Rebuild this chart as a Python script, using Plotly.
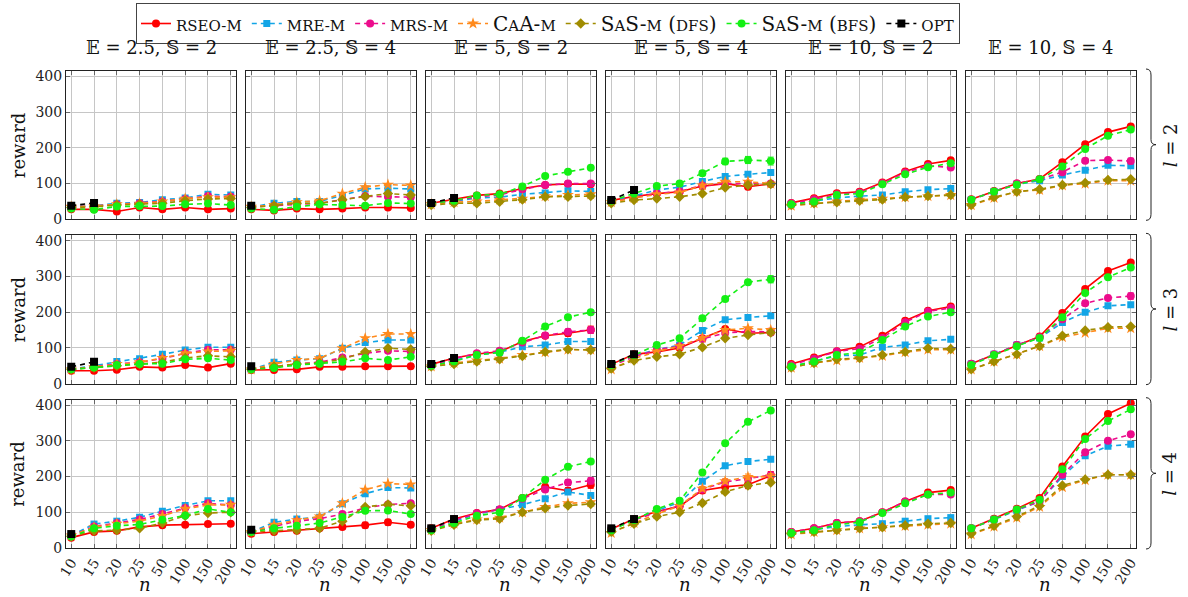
import plotly.graph_objects as go
from plotly.subplots import make_subplots

# ---------------- data ----------------
n_labels = ["10", "15", "20", "25", "50", "100", "150", "200"]
col_titles = ["𝔼 = 2.5, 𝕊 = 2", "𝔼 = 2.5, 𝕊 = 4", "𝔼 = 5, 𝕊 = 2",
              "𝔼 = 5, 𝕊 = 4", "𝔼 = 10, 𝕊 = 2", "𝔼 = 10, 𝕊 = 4"]
row_labels = ["<i>l</i> = 2", "<i>l</i> = 3", "<i>l</i> = 4"]
y_ticks = [0, 100, 200, 300, 400]

# l = 2
rseo_l2 = [[28, 28, 22, 33, 28, 33, 28, 30], [28, 25, 30, 28, 30, 33, 33, 32],
           [45, 55, 67, 72, 86, 96, 99, 98], [53, 64, 72, 77, 93, 100, 91, 99],
           [46, 59, 73, 77, 103, 134, 155, 165], [56, 79, 100, 113, 160, 210, 244, 260]]
mre_l2 = [[35, 38, 45, 47, 55, 60, 70, 68], [35, 45, 50, 50, 67, 85, 87, 85],
          [45, 50, 60, 62, 70, 74, 80, 78], [52, 65, 82, 90, 106, 120, 126, 131],
          [42, 50, 60, 65, 68, 77, 83, 86], [55, 78, 98, 108, 124, 137, 151, 150]]
mrs_l2 = [[35, 37, 42, 45, 50, 57, 65, 63], [35, 38, 42, 45, 55, 65, 63, 62],
          [45, 52, 63, 68, 84, 96, 100, 100], [50, 62, 72, 78, 95, 100, 100, 100],
          [45, 56, 70, 75, 101, 131, 150, 145], [55, 78, 100, 112, 132, 164, 166, 163]]
caa_l2 = [[35, 37, 42, 44, 50, 58, 62, 62], [35, 40, 48, 52, 72, 90, 97, 95],
          [42, 48, 50, 55, 58, 65, 68, 70], [48, 60, 70, 75, 95, 105, 105, 100],
          [38, 45, 50, 55, 58, 62, 65, 68], [40, 60, 78, 82, 95, 100, 108, 108]]
dfs_l2 = [[33, 35, 40, 42, 45, 52, 57, 58], [33, 38, 45, 45, 55, 64, 72, 68],
          [40, 45, 45, 49, 55, 63, 63, 65], [45, 54, 58, 63, 72, 89, 96, 99],
          [40, 45, 48, 52, 55, 62, 65, 68], [40, 62, 77, 84, 96, 102, 110, 112]]
bfs_l2 = [[30, 27, 36, 37, 37, 42, 44, 40], [30, 27, 35, 42, 40, 38, 46, 44],
          [45, 52, 67, 70, 92, 121, 133, 144], [52, 72, 93, 100, 129, 162, 166, 163],
          [42, 50, 68, 72, 98, 126, 146, 157], [55, 78, 97, 112, 148, 197, 234, 251]]
opt_l2 = [[38, 46], [38, None], [46, 60], [54, 82], [None, None], [None, None]]

# l = 3
rseo_l3 = [[36, 36, 39, 47, 45, 52, 45, 56], [38, 38, 40, 47, 47, 49, 49, 49],
           [54, 72, 83, 89, 118, 134, 141, 151], [54, 82, 89, 100, 127, 153, 141, 143],
           [55, 73, 91, 103, 134, 176, 204, 216], [56, 81, 108, 132, 198, 265, 315, 339]]
mre_l3 = [[40, 50, 62, 70, 82, 94, 102, 102], [40, 60, 66, 70, 99, 115, 122, 122],
          [50, 65, 80, 88, 103, 108, 118, 118], [52, 78, 95, 108, 149, 179, 185, 190],
          [48, 62, 78, 80, 102, 108, 120, 124], [55, 82, 108, 128, 171, 200, 218, 221]]
mrs_l3 = [[40, 48, 55, 60, 70, 85, 95, 95], [40, 48, 55, 60, 73, 85, 92, 90],
          [52, 70, 85, 92, 115, 135, 145, 150], [50, 75, 95, 105, 125, 142, 146, 145],
          [52, 70, 90, 98, 128, 172, 202, 212], [55, 82, 108, 130, 180, 225, 240, 245]]
caa_l3 = [[40, 47, 55, 60, 72, 85, 90, 92], [40, 55, 66, 71, 99, 127, 139, 139],
          [48, 58, 65, 70, 80, 88, 95, 95], [40, 70, 90, 105, 128, 150, 155, 150],
          [45, 58, 65, 72, 78, 88, 95, 95], [40, 62, 82, 105, 130, 142, 155, 155]]
dfs_l3 = [[40, 45, 50, 55, 60, 72, 78, 75], [40, 48, 55, 58, 68, 89, 99, 96],
          [48, 55, 62, 68, 77, 89, 96, 94], [42, 65, 75, 82, 102, 127, 136, 143],
          [45, 58, 68, 72, 80, 89, 99, 97], [40, 62, 82, 105, 134, 149, 158, 160]]
bfs_l3 = [[40, 45, 52, 55, 56, 68, 71, 66], [40, 44, 52, 56, 61, 71, 66, 75],
          [50, 63, 80, 87, 120, 160, 186, 200], [52, 80, 108, 127, 183, 237, 284, 292],
          [48, 62, 80, 87, 122, 160, 188, 200], [52, 80, 105, 128, 186, 254, 298, 325]]
opt_l3 = [[47, 61], [49, None], [55, 72], [55, 82], [None, None], [None, None]]

# l = 4
rseo_l4 = [[29, 45, 48, 59, 64, 65, 67, 68], [40, 45, 48, 55, 59, 64, 72, 65],
           [55, 81, 98, 108, 140, 171, 160, 177], [53, 81, 102, 117, 161, 171, 177, 202],
           [45, 55, 70, 75, 100, 130, 155, 162], [55, 82, 110, 140, 228, 312, 375, 405]]
mre_l4 = [[35, 67, 75, 86, 103, 119, 132, 132], [45, 72, 81, 86, 124, 152, 169, 168],
          [52, 75, 95, 108, 121, 138, 157, 147], [52, 78, 105, 128, 187, 230, 242, 248],
          [42, 50, 60, 65, 68, 75, 82, 85], [55, 80, 105, 130, 200, 258, 285, 290]]
mrs_l4 = [[35, 60, 70, 80, 95, 112, 125, 120], [45, 60, 75, 82, 95, 112, 122, 125],
          [52, 78, 97, 108, 138, 164, 183, 188], [52, 78, 100, 118, 164, 185, 194, 204],
          [45, 55, 70, 75, 100, 130, 150, 150], [55, 80, 108, 130, 205, 268, 300, 318]]
caa_l4 = [[35, 58, 68, 75, 90, 110, 120, 121], [45, 65, 78, 88, 125, 163, 180, 178],
          [50, 68, 80, 85, 100, 115, 125, 128], [42, 70, 95, 118, 166, 187, 199, 200],
          [38, 45, 50, 55, 58, 62, 65, 68], [38, 60, 85, 115, 170, 190, 205, 205]]
dfs_l4 = [[33, 48, 50, 55, 70, 90, 98, 100], [45, 48, 50, 55, 75, 115, 122, 118],
          [48, 65, 78, 82, 100, 111, 119, 123], [45, 68, 88, 100, 126, 157, 175, 183],
          [40, 45, 50, 55, 58, 63, 68, 70], [40, 62, 88, 118, 175, 192, 205, 205]]
bfs_l4 = [[32, 55, 62, 66, 79, 91, 109, 100], [45, 55, 62, 70, 87, 104, 105, 95],
          [50, 70, 90, 100, 140, 191, 227, 242], [50, 78, 109, 132, 211, 293, 353, 385],
          [42, 50, 65, 72, 98, 125, 150, 155], [55, 80, 108, 135, 220, 305, 355, 388]]
opt_l4 = [[39, None], [51, None], [55, 81], [55, 81], [None, None], [None, None]]

# error bars (row, col, series) -> half-widths
errors = {
    (0, 3, "bfs"): [2, 3, 4, 5, 7, 9, 10, 11],
    (0, 3, "rseo"): [2, 3, 3, 4, 5, 6, 8, 5],
    (0, 5, "mrs"): [2, 3, 3, 4, 5, 6, 7, 8],
    (1, 2, "rseo"): [2, 3, 3, 4, 5, 7, 8, 10],
    (1, 2, "mrs"): [2, 3, 3, 4, 5, 6, 8, 9],
    (1, 3, "bfs"): [2, 3, 4, 5, 6, 7, 6, 10],
    (1, 3, "mrs"): [2, 3, 4, 4, 6, 8, 9, 10],
    (1, 5, "mrs"): [2, 3, 3, 4, 5, 6, 7, 9],
    (2, 1, "rseo"): [3, 3, 4, 4, 6, 8, 8, 6],
    (2, 2, "rseo"): [2, 3, 4, 4, 6, 8, 9, 10],
    (2, 2, "mrs"): [2, 3, 3, 4, 6, 7, 8, 9],
    (2, 3, "rseo"): [2, 3, 4, 5, 7, 8, 11, 12],
    (2, 3, "caa"): [2, 3, 4, 5, 6, 7, 8, 8],
}

# ---------------- styling ----------------
FONT = "DejaVu Serif, Liberation Serif, serif"


def sc(s):
    return f'<span style="font-size:15px">{s}</span>'


series = [
    dict(key="rseo", name=sc("RSEO-M"), color="#ff0000", symbol="circle", size=8, dash="solid",
         data=[rseo_l2, rseo_l3, rseo_l4]),
    dict(key="mre", name=sc("MRE-M"), color="#12a5e6", symbol="square", size=7, dash="5px,4px",
         data=[mre_l2, mre_l3, mre_l4]),
    dict(key="mrs", name=sc("MRS-M"), color="#ec0c8c", symbol="circle", size=8, dash="5px,4px",
         data=[mrs_l2, mrs_l3, mrs_l4]),
    dict(key="caa", name="C" + sc("A") + "A-" + sc("M"), color="#ff8a1c", symbol="star", size=9,
         dash="5px,4px", data=[caa_l2, caa_l3, caa_l4]),
    dict(key="dfs", name="S" + sc("A") + "S-" + sc("M") + " (" + sc("DFS") + ")", color="#a08c00",
         symbol="diamond", size=8, dash="5px,4px", data=[dfs_l2, dfs_l3, dfs_l4]),
    dict(key="bfs", name="S" + sc("A") + "S-" + sc("M") + " (" + sc("BFS") + ")", color="#14f014",
         symbol="circle", size=8, dash="5px,4px", data=[bfs_l2, bfs_l3, bfs_l4]),
    dict(key="opt", name=sc("OPT"), color="#000000", symbol="square", size=8, dash="5px,4px",
         data=[opt_l2, opt_l3, opt_l4]),
]

W, H = 1188, 597
ML, MR, MT, MB = 66, 52, 71, 49
PW, PH = W - ML - MR, H - MT - MB

fig = make_subplots(rows=3, cols=6, horizontal_spacing=10 / PW, vertical_spacing=16 / PH)

for r in range(3):
    for c in range(6):
        for s in series:
            vals = s["data"][r][c]
            xs = n_labels[:len(vals)]
            if all(v is None for v in vals):
                continue
            err = errors.get((r, c, s["key"]))
            tr = go.Scatter(
                x=xs, y=vals, mode="lines+markers", name=s["name"],
                legendgroup=s["key"], showlegend=(r == 0 and c == 0),
                line=dict(color=s["color"], width=1.6, dash=s["dash"]),
                marker=dict(symbol=s["symbol"], size=s["size"], color=s["color"],
                            line=dict(width=0)),
                connectgaps=False,
            )
            if err is not None:
                tr.error_y = dict(type="data", array=err, color=s["color"], thickness=1, width=3)
            fig.add_trace(tr, row=r + 1, col=c + 1)

for r in range(3):
    for c in range(6):
        fig.update_xaxes(
            row=r + 1, col=c + 1, type="category", categoryorder="array", categoryarray=n_labels,
            range=[-0.23, 7.23], showgrid=True, gridcolor="#c6c6c6", gridwidth=1,
            showline=True, mirror="allticks", linecolor="#222", linewidth=1,
            ticks="inside", ticklen=4, tickcolor="#666", tickangle=-58,
            showticklabels=(r == 2), tickfont=dict(family=FONT, size=14, color="#222"),
            zeroline=False, automargin=False,
        )
        fig.update_yaxes(
            row=r + 1, col=c + 1, range=[0, 415], tickvals=y_ticks,
            showgrid=True, gridcolor="#c6c6c6", gridwidth=1,
            showline=True, mirror="allticks", linecolor="#222", linewidth=1,
            ticks="inside", ticklen=4, tickcolor="#666",
            showticklabels=(c == 0), tickfont=dict(family=FONT, size=14, color="#222"),
            zeroline=False, automargin=False,
        )

ann = []
shapes = []


def px2x(px):
    return (px - ML) / PW


def py2y(py):
    return (H - MB - py) / PH


for c in range(6):
    dom = fig.layout[f"xaxis{c + 1 if c else ''}"].domain
    xc = (dom[0] + dom[1]) / 2
    ann.append(dict(text=col_titles[c], x=xc, y=py2y(48), xref="paper", yref="paper",
                    xanchor="center", yanchor="middle",
                    showarrow=False, font=dict(family=FONT, size=18, color="#111")))
    ann.append(dict(text="<i>n</i>", x=xc - 6 / PW, y=py2y(584), xref="paper", yref="paper",
                    xanchor="center", yanchor="middle",
                    showarrow=False, font=dict(family=FONT, size=18, color="#111")))

for r in range(3):
    idx = r * 6 + 1
    dom = fig.layout[f"yaxis{idx if idx > 1 else ''}"].domain
    yc = (dom[0] + dom[1]) / 2
    ann.append(dict(text="reward", x=px2x(18), y=yc, xref="paper", yref="paper", textangle=-90,
                    xanchor="center", yanchor="middle",
                    showarrow=False, font=dict(family=FONT, size=18, color="#111")))
    ann.append(dict(text=row_labels[r], x=px2x(1170), y=yc, xref="paper", yref="paper",
                    xanchor="center", yanchor="middle",
                    textangle=-90, showarrow=False, font=dict(family=FONT, size=18, color="#111")))
    # curly brace
    yt = H - MB - dom[1] * PH - 2
    yb = H - MB - dom[0] * PH + 1
    ym = (yt + yb) / 2
    x0, x1, x2 = 1146, 1151, 1156

    def P(x, y):
        return f"{px2x(x):.5f},{py2y(y):.5f}"

    path = (f"M{P(x0, yt)} Q{P(x1, yt)} {P(x1, yt + 6)} L{P(x1, ym - 5)} "
            f"Q{P(x1, ym)} {P(x2, ym)} Q{P(x1, ym)} {P(x1, ym + 5)} "
            f"L{P(x1, yb - 6)} Q{P(x1, yb)} {P(x0, yb)}")
    shapes.append(dict(type="path", path=path, xref="paper", yref="paper",
                       line=dict(color="#222", width=1)))

fig.update_layout(
    width=W, height=H, margin=dict(l=ML, r=MR, t=MT, b=MB, autoexpand=False),
    paper_bgcolor="white", plot_bgcolor="white",
    font=dict(family=FONT, color="#111"),
    annotations=ann, shapes=shapes,
    legend=dict(orientation="h", xref="container", yref="container",
                x=548 / W, xanchor="center", y=1 - 3 / H, yanchor="top",
                bordercolor="#444", borderwidth=1, font=dict(family=FONT, size=20, color="#111"),
                itemwidth=30, tracegroupgap=0),
)

fig.write_html("out.html", config={"displayModeBar": False},
               post_script="document.body.style.margin='0px';document.body.style.overflow='hidden';")
